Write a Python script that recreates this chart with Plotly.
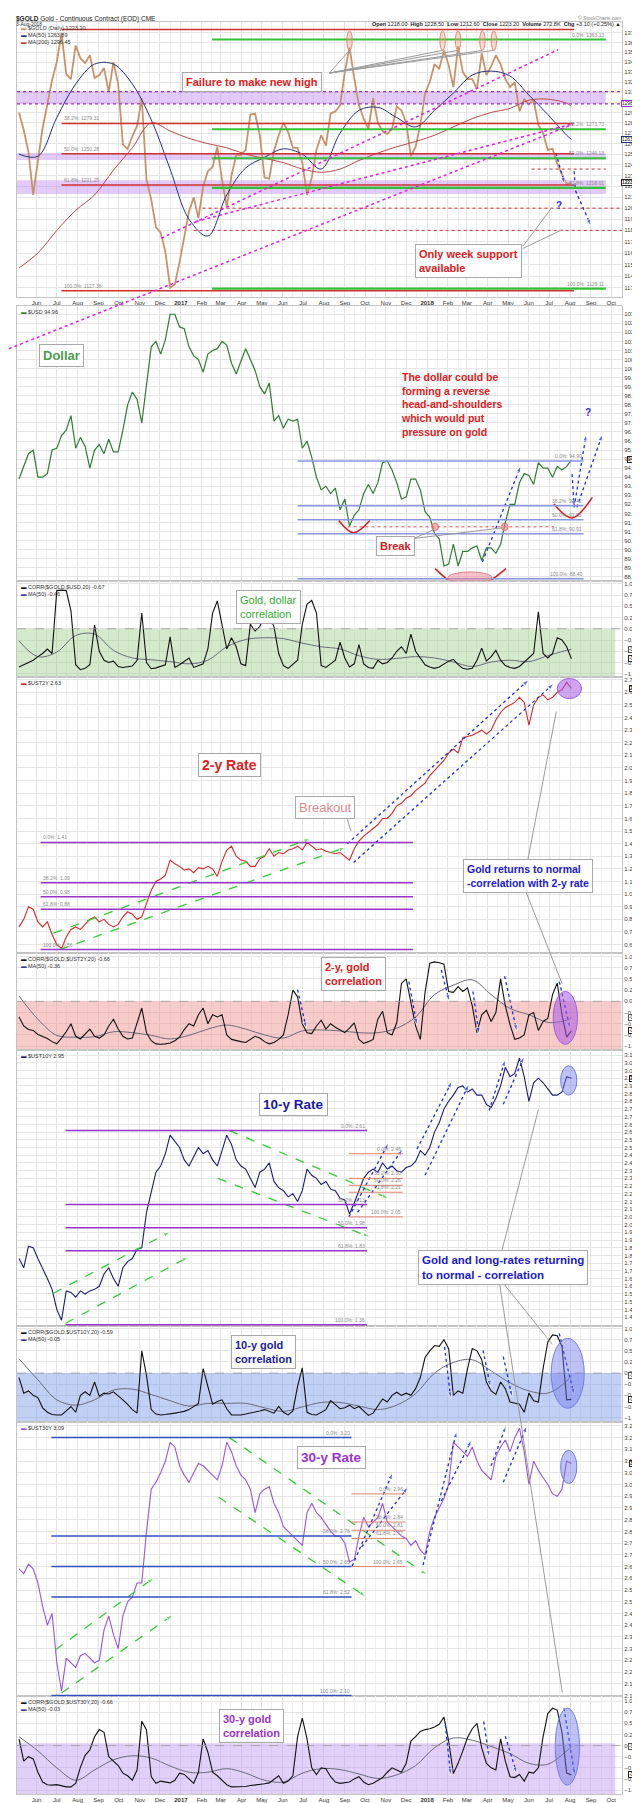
import numpy as np
import pandas as pd
import plotly.graph_objects as go
from plotly.subplots import make_subplots

FONT = "Arial, Liberation Sans, sans-serif"

# ---- data (weekly closes, Fridays from 6-May-2016) ----
weeks = pd.date_range("2016-05-06", periods=118, freq="7D")

gold = [1290, 1273, 1252, 1212, 1244, 1275, 1298, 1322, 1340, 1370,
        1328, 1323, 1357, 1344, 1339, 1347, 1324, 1327, 1334, 1310,
        1340, 1318, 1259, 1255, 1267, 1277, 1304, 1226, 1208, 1183,
        1178, 1161, 1130, 1133, 1152, 1173, 1197, 1210, 1191, 1220,
        1234, 1238, 1257, 1226, 1201, 1230, 1249, 1249, 1254, 1288,
        1289, 1268, 1228, 1227, 1253, 1268, 1280, 1271, 1256, 1256,
        1242, 1212, 1228, 1254, 1268, 1258, 1289, 1291, 1297, 1330,
        1355, 1324, 1297, 1284, 1274, 1304, 1280, 1272, 1269, 1274,
        1296, 1292, 1280, 1248, 1257, 1278, 1309, 1320, 1338, 1333,
        1352, 1337, 1315, 1356, 1330, 1323, 1323, 1313, 1349, 1327,
        1336, 1347, 1338, 1323, 1315, 1320, 1291, 1303, 1298, 1302,
        1278, 1270, 1254, 1255, 1241, 1231, 1222, 1223]

usd = [93.9, 94.6, 95.3, 95.5, 94.0, 94.0, 94.2, 95.5, 95.6, 96.3,
       96.6, 97.4, 95.6, 96.2, 95.7, 94.5, 95.5, 95.8, 95.3, 96.1,
       95.4, 95.4, 96.6, 98.0, 98.7, 98.3, 97.0, 99.1, 101.2, 101.5,
       100.8, 101.6, 103.0, 103.0, 102.3, 102.2, 101.2, 100.7, 100.5, 99.8,
       100.8, 101.0, 101.1, 101.5, 101.3, 100.3, 99.7, 100.4, 101.1, 100.5,
       99.9, 99.0, 98.6, 99.2, 97.1, 97.4, 96.7, 97.2, 97.1, 97.2,
       95.6, 96.0, 95.1, 94.0, 93.3, 93.5, 93.1, 93.4, 92.2, 92.8,
       91.3, 91.9, 92.2, 93.1, 93.6, 93.1, 93.7, 94.8, 94.9, 94.4,
       93.7, 92.8, 92.9, 93.9, 93.9, 93.3, 92.1, 91.8, 90.9, 90.6,
       89.1, 89.2, 90.3, 89.1, 89.9, 89.9, 90.1, 90.2, 89.4, 90.1,
       90.1, 89.8, 90.3, 91.5, 92.5, 92.5, 93.7, 94.2, 94.1, 93.6,
       94.8, 94.5, 94.5, 94.0, 94.6, 94.4, 94.6, 94.96]

ust2y = [0.74, 0.80, 0.90, 0.88, 0.78, 0.74, 0.78, 0.68, 0.60, 0.57,
         0.66, 0.72, 0.74, 0.72, 0.76, 0.80, 0.82, 0.78, 0.80, 0.76,
         0.74, 0.76, 0.82, 0.86, 0.84, 0.80, 0.82, 0.92, 1.03, 1.10,
         1.12, 1.15, 1.27, 1.24, 1.22, 1.19, 1.20, 1.17, 1.21, 1.20,
         1.22, 1.20, 1.14, 1.26, 1.35, 1.38, 1.30, 1.27, 1.26, 1.22,
         1.22, 1.28, 1.30, 1.36, 1.30, 1.33, 1.32, 1.35, 1.36, 1.38,
         1.35, 1.41, 1.38, 1.35, 1.36, 1.34, 1.33, 1.32, 1.33, 1.30,
         1.27, 1.36, 1.42, 1.46, 1.49, 1.52, 1.55, 1.60, 1.60, 1.64,
         1.70, 1.72, 1.76, 1.78, 1.82, 1.85, 1.88, 1.94, 1.98, 2.02,
         2.06, 2.12, 2.15, 2.12, 2.24, 2.25, 2.26, 2.28, 2.30, 2.27,
         2.30, 2.38, 2.44, 2.48, 2.50, 2.52, 2.56, 2.52, 2.34, 2.50,
         2.56, 2.58, 2.54, 2.56, 2.60, 2.62, 2.68, 2.63]

ust10y = [1.78, 1.72, 1.86, 1.85, 1.78, 1.72, 1.65, 1.58, 1.45, 1.38,
          1.57, 1.56, 1.53, 1.57, 1.55, 1.57, 1.58, 1.60, 1.68, 1.72,
          1.65, 1.60, 1.72, 1.76, 1.78, 1.84, 1.85, 2.08, 2.22, 2.34,
          2.38, 2.46, 2.58, 2.54, 2.50, 2.42, 2.38, 2.44, 2.50, 2.46,
          2.48, 2.42, 2.38, 2.48, 2.58, 2.52, 2.42, 2.38, 2.36, 2.30,
          2.24, 2.34, 2.36, 2.40, 2.28, 2.24, 2.22, 2.18, 2.20, 2.15,
          2.22, 2.36, 2.32, 2.30, 2.26, 2.28, 2.23, 2.22, 2.17, 2.16,
          2.07, 2.14, 2.22, 2.30, 2.34, 2.36, 2.34, 2.40, 2.36, 2.38,
          2.35, 2.34, 2.37, 2.38, 2.41, 2.48, 2.45, 2.50, 2.60, 2.66,
          2.75, 2.80, 2.84, 2.89, 2.90, 2.86, 2.88, 2.84, 2.84, 2.78,
          2.76, 2.82, 2.90, 3.02, 2.96, 2.98, 3.08, 2.96, 2.80, 2.92,
          2.95, 2.92, 2.88, 2.84, 2.84, 2.86, 2.96, 2.95]

ust30y = [2.64, 2.62, 2.66, 2.64, 2.58, 2.48, 2.40, 2.45, 2.24, 2.12,
          2.26, 2.24, 2.22, 2.27, 2.28, 2.26, 2.24, 2.25, 2.38, 2.44,
          2.36, 2.30, 2.44, 2.50, 2.52, 2.58, 2.58, 2.80, 2.98, 3.01,
          3.05, 3.10, 3.18, 3.16, 3.08, 3.04, 3.01, 3.05, 3.09, 3.08,
          3.06, 3.04, 3.02, 3.08, 3.18, 3.14, 3.08, 3.04, 3.02, 2.98,
          2.88, 2.96, 2.98, 2.99, 2.92, 2.88, 2.82, 2.80, 2.78, 2.76,
          2.74, 2.88, 2.92, 2.88, 2.86, 2.83, 2.80, 2.78, 2.78, 2.75,
          2.67, 2.68, 2.78, 2.86, 2.82, 2.84, 2.86, 2.92, 2.84, 2.82,
          2.80, 2.78, 2.77, 2.74, 2.76, 2.72, 2.70, 2.80, 2.86, 2.90,
          2.94, 3.00, 3.18, 3.16, 3.14, 3.12, 3.16, 3.10, 3.06, 3.04,
          3.02, 3.12, 3.16, 3.19, 3.14, 3.20, 3.24, 3.14, 3.00, 3.10,
          3.06, 3.03, 3.00, 2.96, 2.95, 2.98, 3.10, 3.09]

corr_usd = [-0.85, -0.80, -0.75, -0.70, -0.62, -0.55, -0.45, -0.55, 0.85, 0.86,
            0.85, 0.40, -0.80, -0.91, -0.88, -0.80, 0.08, -0.50, -0.70, -0.75,
            -0.72, -0.84, -0.86, -0.85, -0.83, -0.70, 0.35, -0.75, -0.89, -0.87,
            -0.84, -0.80, -0.18, -0.86, -0.80, -0.72, -0.65, -0.86, -0.82, -0.78,
            -0.45, 0.35, 0.62, 0.10, -0.45, -0.20, -0.40, -0.78, -0.82, 0.10,
            -0.05, 0.05, 0.30, 0.28, 0.05, -0.55, -0.82, -0.88, -0.80, -0.70,
            0.10, 0.55, 0.63, 0.35, -0.82, -0.86, -0.78, -0.70, -0.30, -0.65,
            -0.85, -0.78, -0.35, -0.78, -0.86, -0.88, -0.70, -0.78, -0.75, -0.65,
            -0.50, -0.40, -0.55, -0.12, -0.50, -0.65, -0.80, -0.85, -0.88, -0.85,
            -0.78, -0.72, -0.68, -0.80, -0.88, -0.90, -0.88, -0.70, -0.43, -0.72,
            -0.62, -0.48, -0.70, -0.82, -0.86, -0.88, -0.84, -0.75, -0.65, -0.55,
            0.38, -0.55, -0.65, -0.55, -0.20, -0.25, -0.40, -0.67]

corr_2y = [-0.35, -0.55, -0.63, -0.65, -0.74, -0.78, -0.83, -0.90, -0.95, -0.82,
           -0.68, -0.50, -0.78, -0.84, -0.72, -0.62, -0.78, -0.82, -0.75, -0.55,
           -0.40, -0.62, -0.78, -0.84, -0.82, -0.50, -0.15, -0.70, -0.88, -0.95,
           -0.96, -0.95, -0.93, -0.88, -0.80, -0.63, -0.50, -0.55, -0.30, -0.15,
           -0.50, -0.30, -0.35, -0.30, -0.75, -0.85, -0.88, -0.90, -0.92, -0.85,
           -0.78, -0.82, -0.90, -0.95, -0.92, -0.85, -0.75, -0.30, 0.25, 0.10,
           -0.50, -0.70, -0.72, -0.55, -0.42, -0.62, -0.50, -0.58, -0.64, -0.70,
           -0.60, -0.48, -0.85, -0.94, -0.90, -0.85, -0.40, -0.22, -0.70, -0.75,
           -0.48, 0.40, 0.50, -0.02, -0.55, -0.85, 0.20, 0.85, 0.88, 0.86,
           0.83, 0.22, 0.20, 0.33, 0.22, 0.30, -0.10, -0.70, -0.30, -0.20,
           -0.45, -0.25, 0.50, -0.10, -0.52, -0.85, -0.82, -0.75, -0.30, -0.25,
           -0.65, -0.45, -0.38, 0.15, 0.41, -0.30, -0.80, -0.66]

corr_10y = [-0.10, -0.45, -0.40, -0.50, -0.55, -0.78, -0.88, -0.93, -0.94, -0.94,
            -0.85, -0.75, -0.88, -0.50, -0.42, -0.50, -0.20, -0.52, -0.45, -0.47,
            -0.42, -0.50, -0.60, -0.70, -0.82, -0.90, 0.50, -0.05, -0.82, -0.92,
            -0.94, -0.93, -0.92, -0.90, -0.88, -0.86, -0.82, -0.75, -0.68, 0.10,
            -0.30, -0.70, -0.64, -0.60, -0.80, -0.94, -0.94, -0.94, -0.92, -0.90,
            -0.88, -0.85, -0.82, -0.86, -0.90, -0.75, -0.88, -0.94, -0.85, -0.30,
            0.12, -0.88, -0.93, -0.94, -0.88, -0.82, -0.62, -0.72, -0.80, -0.78,
            -0.72, -0.80, -0.75, -0.85, -0.95, -0.90, -0.75, -0.58, -0.65, -0.50,
            -0.43, -0.50, -0.45, -0.50, -0.35, -0.10, 0.35, 0.50, 0.62, 0.60,
            0.75, 0.55, -0.50, -0.40, -0.45, 0.10, 0.55, 0.50, 0.30, -0.20,
            -0.40, -0.48, -0.20, -0.35, -0.65, -0.68, -0.70, -0.88, -0.45, -0.62,
            -0.65, 0.10, 0.70, 0.86, 0.84, 0.60, -0.60, -0.59]

corr_30y = [0.15, -0.35, -0.25, -0.30, -0.60, -0.82, -0.88, -0.89, -0.88, -0.90,
            -0.93, -0.93, -0.85, -0.49, -0.22, -0.10, 0.20, 0.36, 0.30, -0.25,
            -0.34, -0.45, -0.62, -0.68, -0.78, -0.55, 0.55, 0.35, -0.70, -0.85,
            -0.80, -0.82, -0.84, -0.78, -0.62, -0.65, -0.74, -0.85, -0.60, 0.15,
            -0.15, -0.60, -0.68, -0.78, -0.88, -0.93, -0.93, -0.93, -0.92, -0.90,
            -0.89, -0.87, -0.86, -0.84, -0.75, -0.68, -0.85, -0.80, -0.68, 0.20,
            0.62, 0.15, -0.50, -0.65, -0.50, -0.52, -0.70, -0.82, -0.85, -0.84,
            -0.82, -0.75, -0.70, -0.82, -0.88, -0.85, -0.78, -0.72, -0.60, -0.50,
            -0.55, -0.60, -0.40, 0.10, 0.20, 0.32, 0.36, 0.38, 0.42, 0.48,
            0.64, 0.10, -0.63, -0.40, -0.12, 0.18, 0.38, 0.50, -0.05, -0.40,
            -0.50, -0.55, 0.15, -0.35, -0.70, -0.72, -0.65, -0.80, -0.60, -0.62,
            -0.50, 0.20, 0.72, 0.84, 0.80, 0.30, -0.62, -0.66]

# moving averages read every fourth week (plus the last week)
ma_idx = list(range(0, 118, 4)) + [117]
gold_ma50 = [1250, 1248, 1285, 1318, 1338, 1338, 1318, 1283, 1236, 1190, 1175,
             1212, 1237, 1247, 1255, 1250, 1236, 1270, 1292, 1295, 1285, 1276,
             1292, 1309, 1327, 1331, 1326, 1307, 1288, 1268, 1264]
gold_ma200 = [1147, 1160, 1180, 1198, 1212, 1235, 1256, 1280, 1272, 1265, 1260,
              1256, 1250, 1246, 1242, 1236, 1233, 1236, 1244, 1251, 1257, 1262,
              1268, 1276, 1284, 1290, 1294, 1302, 1303, 1299, 1296]
corr_usd_ma = [-0.27, -0.62, -0.52, -0.15, -0.12, -0.48, -0.65, -0.69, -0.73, -0.78,
               -0.70, -0.40, -0.24, -0.20, -0.22, -0.32, -0.40, -0.45, -0.60, -0.68,
               -0.66, -0.62, -0.65, -0.74, -0.84, -0.74, -0.70, -0.73, -0.60, -0.48, -0.46]
corr_2y_ma = [0.12, -0.40, -0.76, -0.80, -0.79, -0.68, -0.70, -0.76, -0.84, -0.76,
              -0.62, -0.53, -0.62, -0.75, -0.82, -0.66, -0.64, -0.66, -0.70, -0.70,
              -0.60, -0.35, 0.15, 0.36, 0.48, 0.15, -0.16, -0.30, -0.47, -0.42, -0.36]
corr_10y_ma = [0.32, -0.15, -0.60, -0.72, -0.60, -0.38, -0.36, -0.48, -0.62, -0.74,
               -0.68, -0.68, -0.68, -0.78, -0.86, -0.76, -0.66, -0.66, -0.74, -0.82,
               -0.72, -0.46, 0.00, 0.24, 0.30, 0.05, -0.22, -0.40, -0.45, -0.18, -0.05]
corr_30y_ma = [0.20, -0.12, -0.50, -0.78, -0.55, -0.32, -0.23, -0.28, -0.46, -0.60,
               -0.60, -0.52, -0.62, -0.78, -0.82, -0.62, -0.52, -0.54, -0.64, -0.74,
               -0.66, -0.45, -0.05, 0.17, 0.12, -0.02, -0.18, -0.40, -0.42, -0.12, -0.03]

months = pd.date_range("2016-06-01", "2018-10-01", freq="MS")
month_text = ["<b>%d</b>" % m.year if m.month == 1 else m.strftime("%b") for m in months]
mid_months = pd.date_range("2016-05-16", "2018-10-16", freq="MS") + pd.Timedelta(days=15)

# ---- layout geometry ----
W, H = 640, 1803
ML, MR, MT, MB = 8, 24, 14, 8
X0, X1 = pd.Timestamp("2016-05-03"), pd.Timestamp("2018-10-17")
PANELS = [(14, 290), (299, 576), (576, 672), (672, 950), (950, 1047),
          (1047, 1325), (1325, 1421), (1421, 1697), (1697, 1795)]
RANGES = {1: (np.log10(1122.4), np.log10(1381.3)), 2: (88.26, 103.48),
          3: (-1.066, 1.06), 4: (0.531, 2.724), 5: (-1.082, 1.073),
          6: (1.34, 3.134), 7: (-1.096, 1.05), 8: (2.096, 3.267), 9: (-1.09, 1.105)}
PH = H - MT - MB


def dom(t, b):
    return [(H - MB - b) / PH, (H - MB - t) / PH]


def xr(r):
    return "x" if r == 1 else "x%d" % r


def yr(r):
    return "y" if r == 1 else "y%d" % r


def av(r, v):
    # annotation y on the log gold axis is given as log10
    return np.log10(v) if r == 1 else v


def xpaper(d):
    return (pd.Timestamp(d) - X0) / (X1 - X0)


def ypaper(r, v):
    d0, d1 = dom(*PANELS[r - 1])
    lo, hi = RANGES[r]
    return d0 + (av(r, v) - lo) / (hi - lo) * (d1 - d0)


def PX(ox):
    return (ox - ML) / (W - ML - MR)


def PY(oy):
    return (H - MB - oy) / PH


fig = make_subplots(rows=9, cols=1, shared_xaxes=True, vertical_spacing=0)


def line(r, x, y, color, width=1.0, dash="solid", shape="linear"):
    fig.add_trace(go.Scatter(x=x, y=y, mode="lines", hoverinfo="skip",
                             line=dict(color=color, width=width, dash=dash, shape=shape)),
                  row=r, col=1)


def hseg(r, y, d0, d1, color, width=1.5, dash="solid", layer="above"):
    fig.add_shape(type="line", xref=xr(r), yref=yr(r), x0=d0, x1=d1, y0=y, y1=y,
                  line=dict(color=color, width=width, dash=dash), layer=layer)


def band(r, y0, y1, d1, fill):
    fig.add_shape(type="rect", xref=xr(r), yref=yr(r), x0=X0, x1=d1, y0=y0, y1=y1,
                  fillcolor=fill, line=dict(width=0), layer="between")


def seg(r, d0, v0, d1, v1, color="#9a9a9a", width=1.0, dash="solid"):
    fig.add_shape(type="line", xref=xr(r), yref=yr(r), x0=d0, x1=d1, y0=v0, y1=v1,
                  line=dict(color=color, width=width, dash=dash))


def pseg(ox0, oy0, ox1, oy1, color="#9a9a9a", width=1.0):
    fig.add_shape(type="line", xref="paper", yref="paper", x0=PX(ox0), y0=PY(oy0),
                  x1=PX(ox1), y1=PY(oy1), line=dict(color=color, width=width))


def arrow(r, d0, v0, d1, v1, color="#1f2fd6", dash="dot", width=1.3, size=7):
    fig.add_trace(go.Scatter(x=[d0, d1], y=[v0, v1], mode="lines+markers", hoverinfo="skip",
                             line=dict(color=color, width=width, dash=dash),
                             marker=dict(symbol="arrow", size=[0, size], angleref="previous",
                                         color=color)),
                  row=r, col=1)


def ellipse(r, d0, d1, v0, v1, fill, edge):
    fig.add_shape(type="circle", xref=xr(r), yref=yr(r), x0=d0, x1=d1, y0=v0, y1=v1,
                  fillcolor=fill, line=dict(color=edge, width=1))


def tbox(r, d, v, text, color, size, bold=True):
    fig.add_annotation(xref=xr(r), yref=yr(r), x=d, y=av(r, v), showarrow=False,
                       text="<b>%s</b>" % text if bold else text, align="left",
                       font=dict(family=FONT, size=size, color=color),
                       bgcolor="white", bordercolor="#a8a8a8", borderwidth=1, borderpad=3)


def label(r, d, v, text, anchor, color="#8a8a8a", size=5):
    fig.add_annotation(xref=xr(r), yref=yr(r), x=d, y=av(r, v), text=text, showarrow=False,
                       xanchor=anchor, yanchor="bottom", font=dict(family=FONT, size=size, color=color))


def fib(r, d0, d1, levels, texts, color, width, side):
    for lv, tx in zip(levels, texts):
        hseg(r, lv, d0, d1, color, width)
        label(r, d0 if side == "left" else d1, lv, tx, side)


def legend(r, text):
    t, _ = PANELS[r - 1]
    fig.add_annotation(xref="paper", yref="paper", x=PX(10), y=PY(t + 1), text=text,
                       showarrow=False, xanchor="left", yanchor="top", align="left",
                       font=dict(family=FONT, size=5.5, color="#333"))


def tag(r, v, text, edge):
    fig.add_annotation(xref="paper", yref=yr(r), x=PX(635), y=av(r, v), text=text, showarrow=False,
                       xanchor="right", font=dict(family=FONT, size=4.8, color="#222"),
                       bgcolor="white", bordercolor=edge, borderwidth=1, borderpad=0)


ma_dates = weeks[ma_idx]

# ---- panel 1: gold ----
band(1, 1298.4, 1310.5, "2018-09-23", "rgba(190,140,240,0.45)")
band(1, 1244.5, 1251.0, "2018-09-23", "rgba(190,140,240,0.45)")
band(1, 1213.0, 1225.5, "2018-09-23", "rgba(190,140,240,0.45)")
hseg(1, 1310.5, X0, X1, "#9a30d0", 1.2, "dot")
hseg(1, 1298.4, X0, X1, "#9a30d0", 1.2, "dot")
line(1, weeks, gold, "#c8936a", 1.8)
line(1, ma_dates, gold_ma50, "#25307a", 1.0, shape="spline")
line(1, ma_dates, gold_ma200, "#b84a4a", 1.0, shape="spline")
fib(1, "2016-07-08", "2018-08-07", [1279.31, 1250.28, 1221.25, 1127.38],
    ["38.2%: 1279.31", "50.0%: 1250.28", "61.8%: 1221.25", "100.0%: 1127.38"], "#d03030", 1.5, "left")
hseg(1, 1373.5, "2016-07-08", "2018-08-07", "#d03030", 1.5)
fib(1, "2017-02-16", "2018-09-23", [1363.13, 1273.73, 1246.13, 1218.61, 1129.11],
    ["0.0%: 1363.13", "38.2%: 1273.73", "50.0%: 1246.13", "61.8%: 1218.61", "100.0%: 1129.11"],
    "#33c233", 2.2, "right")
hseg(1, 1236, "2018-06-05", "2018-09-23", "#d03030", 1.0, "dot")
hseg(1, 1200, "2017-02-02", X1, "#d03030", 1.0, "dot")
hseg(1, 1180, "2017-01-20", X1, "#d03030", 1.0, "dot")
seg(1, "2016-12-03", 1173, "2018-07-14", 1352.6, "#e020e0", 1.5, "dot")
seg(1, "2017-01-23", 1188, "2018-08-05", 1279, "#e020e0", 1.5, "dot")
fig.add_shape(type="line", xref="paper", yref="paper", x0=xpaper("2016-04-21"), y0=ypaper(1, 1079),
              x1=xpaper("2018-08-05"), y1=ypaper(1, 1278.4), line=dict(color="#e020e0", width=1.5, dash="dot"))
for hd in ["2017-09-08", "2018-01-24", "2018-02-16", "2018-03-24", "2018-04-10"]:
    c = pd.Timestamp(hd)
    seg(1, "2017-08-09", 1329, c, 1352)
    ellipse(1, c - pd.Timedelta(days=4), c + pd.Timedelta(days=4), 1352, 1372,
            "rgba(240,150,120,0.35)", "#e08a70")
tbox(1, "2017-04-16", 1320.4, "Failure to make new high", "#e02020", 11)
seg(1, "2018-05-23", 1166, "2018-07-05", 1200.5)
seg(1, "2018-05-23", 1164, "2018-07-20", 1180.5)
tbox(1, "2018-03-03", 1153, "Only week support<br>available", "#e02020", 11)
arrow(1, "2018-07-11", 1251, "2018-07-24", 1222)
arrow(1, "2018-08-07", 1234, "2018-08-09", 1216)
arrow(1, "2018-08-09", 1216, "2018-09-01", 1184)
fig.add_annotation(xref="x", yref="y", x="2018-07-15", y=np.log10(1202), text="<b>?</b>",
                   showarrow=False, font=dict(family=FONT, size=10, color="#1f2fd6"))
legend(1, "<span style='color:#c8936a'>▬</span> $GOLD (Daily) 1223.20<br>"
          "<span style='color:#25307a'>▬</span> MA(50) 1263.89<br>"
          "<span style='color:#b84a4a'>▬</span> MA(200) 1296.45")
tag(1, 1298.43, "1298.43", "#9a30d0")
tag(1, 1263.89, "1263.89", "#25307a")
tag(1, 1223.20, "<b>1223.20</b>", "#222")

# ---- panel 2: dollar ----
line(2, weeks, usd, "#2e7d32", 1.2)
fib(2, "2017-06-23", "2018-08-21", [94.90, 92.42, 91.65, 90.88, 88.40],
    ["0.0%: 94.90", "38.2%: 92.42", "50.0%: 91.65", "61.8%: 90.91", "100.0%: 88.40"],
    "#8a96e0", 1.5, "right")
hseg(2, 91.26, "2017-09-05", "2018-07-08", "#e05050", 1.0, "dot")
for cd in ["2018-01-13", "2018-04-26"]:
    c = pd.Timestamp(cd)
    ellipse(2, c - pd.Timedelta(days=5), c + pd.Timedelta(days=5), 91.06, 91.46,
            "rgba(240,120,130,0.55)", "#e07070")
ellipse(2, "2018-02-01", "2018-04-07", 88.13, 88.77, "rgba(240,120,140,0.45)", "#e07a8a")
for xs, ys in [(["2017-08-23", "2017-09-14", "2017-10-08"], [91.61, 90.93, 91.61]),
               (["2018-01-13", "2018-03-03", "2018-04-28"], [88.95, 87.76, 88.95]),
               (["2018-07-08", "2018-08-04", "2018-09-03"], [92.52, 91.75, 92.89])]:
    line(2, pd.to_datetime(xs), ys, "#d42020", 1.6, shape="spline")
arrow(2, "2018-03-24", 89.32, "2018-05-20", 94.63)
arrow(2, "2018-08-04", 94.17, "2018-08-07", 92.34)
arrow(2, "2018-08-07", 92.34, "2018-08-25", 96.37)
arrow(2, "2018-08-11", 92.34, "2018-09-18", 96.37)
fig.add_annotation(xref="x2", yref="y2", x="2018-08-28", y=97.56, text="<b>?</b>", showarrow=False,
                   font=dict(family=FONT, size=10, color="#1f2fd6"))
tbox(2, "2016-07-08", 100.73, "Dollar", "#4e9a4e", 13)
fig.add_annotation(xref="x2", yref="y2", x="2017-11-20", y=99.95, xanchor="left", yanchor="top",
                   showarrow=False, align="left",
                   text="<b>The dollar could be<br>forming a reverse<br>head-and-shoulders<br>"
                        "which would put<br>pressure on gold</b>",
                   font=dict(family=FONT, size=10.5, color="#e02020"))
seg(2, "2017-12-08", 90.55, "2018-01-11", 91.1)
seg(2, "2017-12-08", 90.6, "2018-04-22", 91.2)
tbox(2, "2017-11-15", 90.2, "Break", "#d42020", 11)
legend(2, "<span style='color:#2e7d32'>▬</span> $USD 94.96")
tag(2, 94.96, "<b>94.96</b>", "#222")

# ---- correlation panels ----
corr_cfg = [
    (3, corr_usd, corr_usd_ma, 0.0, "2018-10-07", "rgba(150,200,130,0.40)", "CORR($GOLD,$USD,20) -0.67", "-0.46", "-0.67"),
    (5, corr_2y, corr_2y_ma, 0.0, "2018-10-16", "rgba(240,140,140,0.45)", "CORR($GOLD,$UST2Y,20) -0.66", "-0.36", "-0.66"),
    (7, corr_10y, corr_10y_ma, 0.0, "2018-10-16", "rgba(120,150,235,0.45)", "CORR($GOLD,$UST10Y,20) -0.59", "-0.05", "-0.59"),
    (9, corr_30y, corr_30y_ma, 0.05, "2018-10-07", "rgba(190,150,240,0.45)", "CORR($GOLD,$UST30Y,20) -0.66", "-0.03", "-0.66"),
]
for r, cv, cm, top, end, fill, name, ma_last, c_last in corr_cfg:
    band(r, RANGES[r][0], top, end, fill)
    hseg(r, 0, X0, X1, "#9a9a9a", 0.8, "dash")
    line(r, ma_dates, cm, "#6a6a7a", 1.0, shape="spline")
    line(r, weeks, cv, "#111111", 1.1)
    legend(r, "<span style='color:#111'>▬</span> %s<br><span style='color:#3a3a9a'>▬</span> MA(50) %s"
           % (name, ma_last))
    tag(r, float(ma_last), ma_last, "#555")
    tag(r, float(c_last), c_last, "#222")

tbox(3, "2017-05-11", 0.49, "Gold, dollar<br>correlation", "#33aa33", 11, bold=False)

tbox(5, "2017-09-14", 0.61, "2-y, gold<br>correlation", "#e02020", 11)
arrow(5, "2017-06-23", 0.26, "2017-07-06", -0.61)
arrow(5, "2017-12-05", 0.44, "2017-12-17", -0.53)
arrow(5, "2018-01-22", 0.70, "2018-02-03", 0.0)
arrow(5, "2018-03-10", 0.22, "2018-03-19", -0.73)
arrow(5, "2018-04-26", 0.56, "2018-05-14", -0.67)
arrow(5, "2018-07-16", 0.44, "2018-08-01", -0.61)
ellipse(5, "2018-07-07", "2018-08-12", -0.96, 0.22, "rgba(170,90,230,0.55)", "#a060e0")

tbox(7, "2017-05-04", 0.47, "10-y gold<br>correlation", "#1a1aa0", 11)
arrow(7, "2018-01-27", 0.59, "2018-02-05", -0.57)
arrow(7, "2018-03-25", 0.51, "2018-04-05", -0.31)
arrow(7, "2018-04-24", 0.37, "2018-05-07", -0.54)
arrow(7, "2018-07-16", 0.89, "2018-08-07", -0.49)
ellipse(7, "2018-07-04", "2018-08-22", -0.79, 0.78, "rgba(110,120,230,0.45)", "#7080e0")

tbox(9, "2017-04-16", 0.43, "30-y gold<br>correlation", "#9933cc", 11)
arrow(9, "2018-01-28", 0.47, "2018-02-05", -0.67)
arrow(9, "2018-03-26", 0.54, "2018-04-03", -0.26)
arrow(9, "2018-04-27", 0.21, "2018-05-14", -0.63)
arrow(9, "2018-07-23", 0.84, "2018-08-08", -0.67)
ellipse(9, "2018-07-10", "2018-08-15", -0.89, 0.84, "rgba(110,120,230,0.45)", "#7080e0")

# ---- panel 4: 2-year ----
line(4, weeks, ust2y, "#d42a2a", 1.1)
fib(4, "2016-06-07", "2017-12-11", [1.41, 1.09, 0.98, 0.88, 0.56],
    ["0.0%: 1.41", "38.2%: 1.09", "50.0%: 0.98", "61.8%: 0.88", "100.0%: 0.56"], "#9933cc", 1.5, "left")
arrow(4, "2016-06-26", 0.69, "2017-07-12", 1.44, "#33cc33", "dash")
arrow(4, "2016-07-05", 0.56, "2017-09-02", 1.37, "#33cc33", "dash")
arrow(4, "2017-09-05", 1.40, "2018-06-01", 2.70)
arrow(4, "2017-09-14", 1.25, "2018-07-08", 2.67)
ellipse(4, "2018-07-13", "2018-08-18", 2.55, 2.71, "rgba(170,90,230,0.55)", "#a060e0")
tbox(4, "2017-03-14", 2.02, "2-y Rate", "#e02020", 14)
seg(4, "2017-09-01", 1.66, "2017-09-10", 1.50)
tbox(4, "2017-08-02", 1.69, "Breakout", "#e08a8a", 13, bold=False)
tbox(4, "2018-05-30", 1.147, "Gold returns to normal<br>-correlation with 2-y rate", "#1a1acc", 10.5)
legend(4, "<span style='color:#d42a2a'>▬</span> $UST2Y 2.63")
tag(4, 2.63, "<b>2.63</b>", "#222")
pseg(521, 858, 550, 707)
pseg(519, 887, 556, 981)

# ---- panel 6: 10-year ----
line(6, weeks, ust10y, "#1c1c70", 1.1)
fib(6, "2016-07-14", "2017-10-04", [2.61, 2.13, 1.98, 1.83, 1.35],
    ["0.0%: 2.61", "38.2%: 2.13", "50.0%: 1.98", "61.8%: 1.83", "100.0%: 1.36"], "#9933cc", 1.5, "right")
fib(6, "2017-09-07", "2017-11-26", [2.46, 2.30, 2.255, 2.21, 2.05],
    ["0.0%: 2.46", "38.2%: 2.30", "50.0%: 2.26", "61.8%: 2.21", "100.0%: 2.05"], "#e08070", 1.0, "right")
arrow(6, "2017-03-14", 2.61, "2017-11-05", 2.17, "#33cc33", "dash")
arrow(6, "2017-02-25", 2.30, "2017-10-08", 1.92, "#33cc33", "dash")
arrow(6, "2016-06-26", 1.555, "2016-12-16", 1.953, "#33cc33", "dash")
arrow(6, "2016-07-14", 1.36, "2017-01-12", 1.79, "#33cc33", "dash")
arrow(6, "2017-09-07", 2.05, "2017-11-05", 2.53)
arrow(6, "2017-09-20", 2.08, "2017-11-26", 2.49)
arrow(6, "2017-12-17", 2.49, "2018-02-07", 2.93)
arrow(6, "2017-12-29", 2.32, "2018-03-04", 2.91)
arrow(6, "2018-04-03", 2.74, "2018-04-27", 3.07)
arrow(6, "2018-04-24", 2.78, "2018-05-25", 3.09)
ellipse(6, "2018-07-18", "2018-08-11", 2.84, 3.03, "rgba(110,120,230,0.45)", "#7080e0")
tbox(6, "2017-06-17", 2.78, "10-y Rate", "#1a1aa0", 13.5)
tbox(6, "2018-04-23", 1.72, "Gold and long-rates returning<br>to normal - correlation", "#1a1acc", 11.5)
legend(6, "<span style='color:#1c1c70'>▬</span> $UST10Y 2.95")
tag(6, 2.95, "<b>2.95</b>", "#222")
pseg(495, 1250, 532, 1107)
pseg(497, 1282, 546, 1343)
pseg(493, 1282, 556, 1693)

# ---- panel 8: 30-year ----
line(8, weeks, ust30y, "#9955dd", 1.1)
fib(8, "2016-06-23", "2017-09-11", [3.20, 2.78, 2.65, 2.52, 2.10],
    ["0.0%: 3.20", "38.2%: 2.78", "50.0%: 2.65", "61.8%: 2.52", "100.0%: 2.10"], "#3050c0", 1.5, "right")
fib(8, "2017-09-11", "2017-11-30", [2.96, 2.84, 2.805, 2.77, 2.65],
    ["0.0%: 2.96", "38.2%: 2.84", "50.0%: 2.81", "61.8%: 2.77", "100.0%: 2.65"], "#e08070", 1.0, "right")
arrow(8, "2017-03-14", 3.20, "2018-01-01", 2.614, "#33cc33", "dash")
arrow(8, "2017-02-26", 2.946, "2017-10-02", 2.522, "#33cc33", "dash")
arrow(8, "2016-06-29", 2.295, "2016-11-22", 2.602, "#33cc33", "dash")
arrow(8, "2016-07-08", 2.111, "2016-12-20", 2.444, "#33cc33", "dash")
arrow(8, "2017-09-12", 2.652, "2017-11-11", 3.05)
arrow(8, "2017-09-26", 2.734, "2017-12-04", 2.99)
arrow(8, "2017-12-26", 2.656, "2018-02-14", 3.227)
arrow(8, "2018-01-22", 2.93, "2018-03-08", 3.19)
arrow(8, "2018-04-06", 3.08, "2018-04-28", 3.25)
arrow(8, "2018-04-24", 3.01, "2018-05-29", 3.25)
ellipse(8, "2018-07-18", "2018-08-11", 3.004, 3.146, "rgba(110,120,230,0.45)", "#7080e0")
tbox(8, "2017-08-12", 3.117, "30-y Rate", "#9933cc", 13.5)
legend(8, "<span style='color:#9955dd'>▬</span> $UST30Y 3.09")
tag(8, 3.09, "<b>3.09</b>", "#222")

# ---- axes ----
for r, (t, b) in enumerate(PANELS, 1):
    fig.update_yaxes(domain=dom(t, b), range=list(RANGES[r]), side="right", row=r, col=1)
fig.update_yaxes(showgrid=True, gridcolor="#e6e6e6", gridwidth=1, zeroline=False, ticks="",
                 showline=True, mirror=True, linecolor="#c4c4c4", linewidth=1,
                 tickfont=dict(family=FONT, size=6, color="#444"))
fig.update_yaxes(type="log", tickvals=list(range(1130, 1371, 10)), row=1, col=1)
fig.update_yaxes(tickvals=list(np.round(np.arange(88.5, 103.01, 0.5), 2)), tickformat=".1f", row=2, col=1)
fig.update_yaxes(tickvals=list(np.round(np.arange(0.6, 2.71, 0.1), 2)), tickformat=".2f", row=4, col=1)
fig.update_yaxes(tickvals=list(np.round(np.arange(1.40, 3.101, 0.05), 2)), tickformat=".2f", row=6, col=1)
fig.update_yaxes(tickvals=list(np.round(np.arange(2.10, 3.251, 0.05), 2)), tickformat=".2f", row=8, col=1)
for r in (3, 5, 7, 9):
    fig.update_yaxes(tickvals=[-1, -0.75, -0.5, -0.25, 0, 0.25, 0.5, 0.75, 1], tickformat=".2f", row=r, col=1)

fig.update_xaxes(range=[X0, X1], type="date", tickvals=months, ticktext=month_text,
                 showgrid=True, gridcolor="#e3e3e3", gridwidth=1, ticks="", zeroline=False,
                 showline=True, mirror=True, linecolor="#c4c4c4", linewidth=1,
                 minor=dict(tickvals=mid_months, showgrid=True, gridcolor="#f1f1f1"),
                 tickfont=dict(family=FONT, size=6, color="#333"), showticklabels=False)
fig.update_xaxes(showticklabels=True, row=1, col=1)
fig.update_xaxes(showticklabels=True, row=9, col=1)

# ---- header ----
fig.add_annotation(xref="paper", yref="paper", x=PX(5), y=PY(5), xanchor="left", showarrow=False,
                   text="<b>$GOLD</b> Gold - Continuous Contract (EOD) CME",
                   font=dict(family=FONT, size=6.5, color="#222"))
fig.add_annotation(xref="paper", yref="paper", x=PX(5), y=PY(11), xanchor="left", showarrow=False,
                   text="3-Aug-2018", font=dict(family=FONT, size=5, color="#333"))
fig.add_annotation(xref="paper", yref="paper", x=PX(617), y=PY(11), xanchor="right", showarrow=False,
                   text="<b>Open</b> 1218.00  <b>High</b> 1228.50  <b>Low</b> 1212.60  <b>Close</b> 1223.20  "
                        "<b>Volume</b> 272.8K  <b>Chg</b> +3.10 (+0.25%) ▲",
                   font=dict(family=FONT, size=5.5, color="#222"))
fig.add_annotation(xref="paper", yref="paper", x=PX(617), y=PY(5), xanchor="right", showarrow=False,
                   text="© StockCharts.com", font=dict(family=FONT, size=5, color="#888"))

fig.update_layout(width=W, height=H, margin=dict(l=ML, r=MR, t=MT, b=MB),
                  paper_bgcolor="white", plot_bgcolor="white", showlegend=False,
                  font=dict(family=FONT))

fig.write_html("out.html")
